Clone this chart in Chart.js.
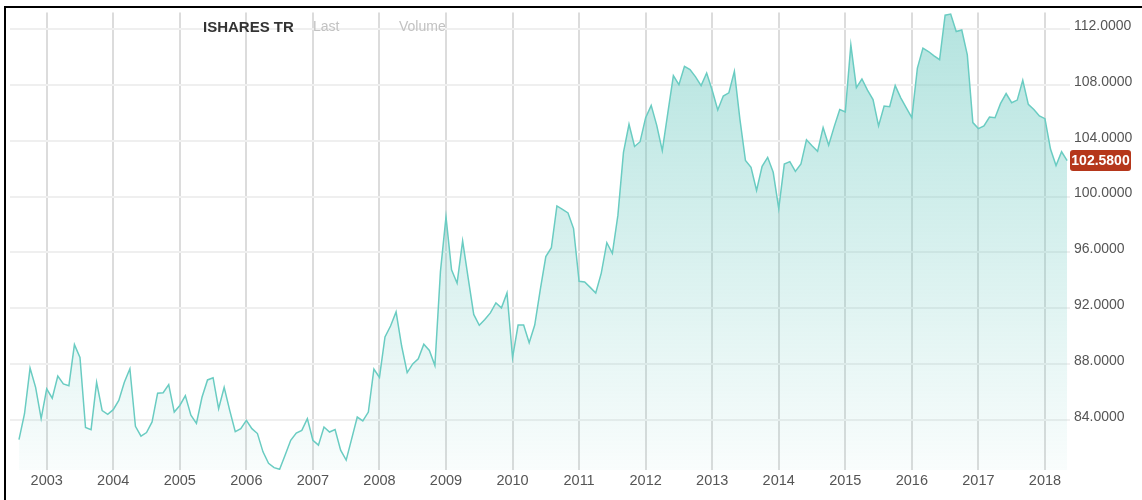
<!DOCTYPE html>
<html>
<head>
<meta charset="utf-8">
<script src="https://cdn.jsdelivr.net/npm/chart.js@4"></script>
<style>
  body { margin: 0; background: #fff; font-family: "Liberation Sans", Arial, sans-serif; }
  #wrap { position: relative; width: 1142px; height: 500px; }
  #PriceChart { position: absolute; left: 0; top: 0; }
  .hd { position: absolute; top: 18px; font-size: 14px; line-height: 17px; color: #c2c2c2; white-space: nowrap; }
  #hd_name { left: 203px; font-size: 15px; font-weight: bold; color: #333; }
  #hd_last { left: 313px; }
  #hd_vol { left: 399px; }
</style>
</head>
<body>
<div id="wrap">
  <canvas id="PriceChart" width="1142" height="500"></canvas>
  <span class="hd" id="hd_name">ISHARES TR</span>
  <span class="hd" id="hd_last">Last</span>
  <span class="hd" id="hd_vol">Volume</span>
</div>
<script>
// monthly closes, first one is Aug 2002
let startYear = 2002;
let startMonth = 8;
let prices = [
  82.6, 84.45, 87.72, 86.34, 84.1, 86.23, 85.56, 87.15, 86.58, 86.46,
  89.4, 88.48, 83.46, 83.31, 86.7, 84.67, 84.4, 84.74, 85.4, 86.7,
  87.67, 83.55, 82.84, 83.1, 83.86, 85.92, 85.95, 86.53, 84.57, 85.04,
  85.75, 84.35, 83.76, 85.63, 86.87, 87.03, 84.81, 86.34, 84.69, 83.17,
  83.38, 83.98, 83.38, 83.03, 81.72, 80.9, 80.59, 80.47, 81.49, 82.55,
  83.07, 83.26, 84.1, 82.55, 82.2, 83.5, 83.14, 83.31, 81.84, 81.13,
  82.67, 84.21, 83.93, 84.57, 87.65, 87.05, 89.95, 90.73, 91.74, 89.3,
  87.4, 88.02, 88.38, 89.43, 88.98, 87.9, 94.64, 98.55, 94.76, 93.8,
  96.82, 94.16, 91.56, 90.78, 91.2, 91.67, 92.38, 92.03, 93.1, 88.47,
  90.8, 90.8, 89.54, 90.8, 93.34, 95.7, 96.34, 99.33, 99.09, 98.83,
  97.71, 93.93, 93.88, 93.5, 93.1, 94.52, 96.7, 95.94, 98.67, 103.16,
  105.18, 103.59, 103.93, 105.65, 106.53, 105.1, 103.29, 106.0, 108.66, 108.02,
  109.33, 109.09, 108.57, 107.95, 108.85, 107.62, 106.2, 107.2, 107.43, 108.97,
  105.53, 102.58, 102.1, 100.44, 102.17, 102.81, 101.74, 99.14, 102.33, 102.5,
  101.8, 102.33, 104.07, 103.64, 103.24, 104.94, 103.68, 105.01, 106.24, 106.06,
  110.86, 107.8, 108.42, 107.62, 106.95, 105.06, 106.48, 106.43, 107.95, 107.07,
  106.36, 105.65, 109.2, 110.63, 110.39, 110.08, 109.8, 112.99, 113.07, 111.82,
  111.93, 110.15, 105.3, 104.87, 105.06, 105.7, 105.65, 106.67, 107.38, 106.72,
  106.91, 108.33, 106.6, 106.24, 105.77, 105.58, 103.4, 102.22, 103.21, 102.58
];
let years = [2003, 2004, 2005, 2006, 2007, 2008, 2009, 2010, 2011, 2012, 2013, 2014, 2015, 2016, 2017, 2018];
let yTicks = [84, 88, 92, 96, 100, 104, 108, 112];
let lastLabel = '102.5800';

let lineColor = '#6accc2';

function BuildPoints() {
  return prices.map(function(p, i) {
    return { x: startYear + (startMonth - 1 + i) / 12, y: p };
  });
}

// frame lines + last price badge
let extras = {
  id: 'extras',
  afterDraw: function(chart) {
    let c = chart.ctx;
    c.save();
    c.fillStyle = '#000';
    c.fillRect(4, 6, 1138, 2);
    c.fillRect(4, 6, 2, 494);

    let y = chart.scales.y.getPixelForValue(prices[prices.length - 1]);
    let x = chart.chartArea.right;
    c.fillStyle = '#b5371b';
    c.beginPath();
    c.roundRect(x, y - 10.5, 61, 21, 3);
    c.fill();
    c.fillStyle = '#fff';
    c.font = 'bold 14px "Liberation Sans", Arial, sans-serif';
    c.textAlign = 'center';
    c.textBaseline = 'middle';
    c.fillText(lastLabel, x + 30.5, y + 0.5);
    c.restore();
  }
};

function DrawChart() {
  let ctx = document.getElementById('PriceChart');
  new Chart(ctx, {
    type: 'line',
    data: {
      datasets: [{
        label: 'ISHARES TR',
        data: BuildPoints(),
        borderColor: lineColor,
        borderWidth: 1.5,
        pointRadius: 0,
        tension: 0,
        fill: 'start',
        backgroundColor: function(context) {
          let area = context.chart.chartArea;
          if (!area) return null;
          let g = context.chart.ctx.createLinearGradient(0, area.top, 0, area.bottom);
          g.addColorStop(0, 'rgba(104,200,191,0.5)');
          g.addColorStop(1, 'rgba(104,200,191,0.04)');
          return g;
        }
      }]
    },
    options: {
      responsive: false,
      animation: false,
      layout: { padding: { top: 9, left: 10, right: 0, bottom: 0 } },
      plugins: {
        legend: { display: false },
        tooltip: { enabled: false }
      },
      scales: {
        x: {
          type: 'linear',
          min: 2002.4485,
          max: 2018.3765,
          afterBuildTicks: function(scale) {
            scale.ticks = years.map(function(v) { return { value: v }; });
          },
          afterFit: function(scale) { scale.height = 30; },
          border: { display: false },
          grid: { color: '#dcdcdc', lineWidth: 2, drawTicks: false },
          ticks: {
            color: '#555',
            padding: 2,
            autoSkip: false,
            maxRotation: 0,
            font: { family: '"Liberation Sans", Arial, sans-serif', size: 14.5 },
            callback: function(value) { return String(value); }
          }
        },
        y: {
          position: 'right',
          min: 80.42,
          max: 113.19,
          afterBuildTicks: function(scale) {
            scale.ticks = yTicks.map(function(v) { return { value: v }; });
          },
          afterFit: function(scale) { scale.width = 72; },
          border: { display: false },
          grid: { color: '#efefef', lineWidth: 2, drawTicks: false },
          ticks: {
            color: '#555',
            padding: 4,
            labelOffset: -3,
            font: { family: '"Liberation Sans", Arial, sans-serif', size: 14 },
            callback: function(value) { return Number(value).toFixed(4); }
          }
        }
      }
    },
    plugins: [extras]
  });
}

DrawChart();
</script>
</body>
</html>
